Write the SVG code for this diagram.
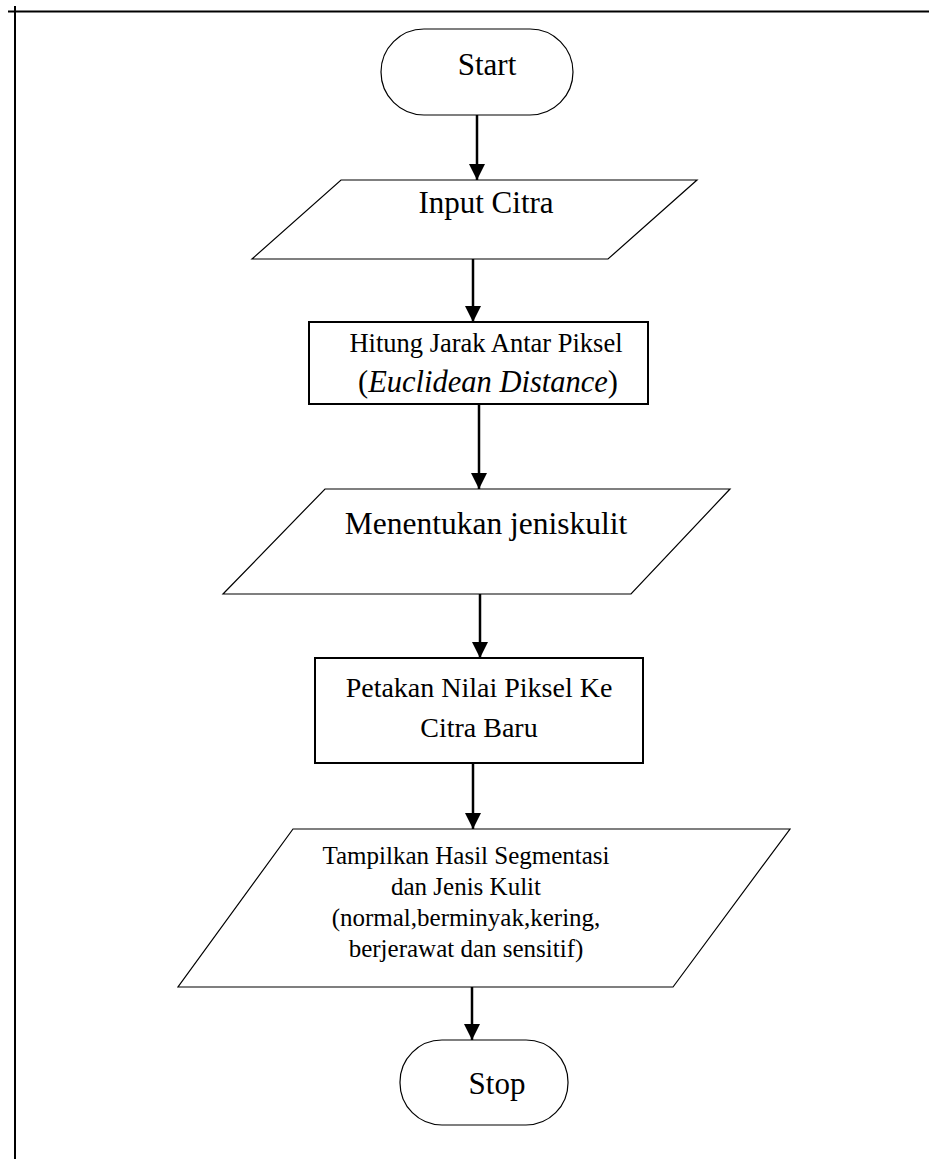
<svg xmlns="http://www.w3.org/2000/svg" width="929" height="1159" viewBox="0 0 929 1159">
<defs>
<style>
.t{font-family:"Liberation Serif","Times New Roman",serif;fill:#000;text-anchor:middle}
.thin{fill:#fff;stroke:#000;stroke-width:1.2}
.box{fill:#fff;stroke:#000;stroke-width:2}
.ln{stroke:#000;stroke-width:2.5;fill:none}
</style>
<marker id="ah" markerUnits="userSpaceOnUse" markerWidth="20" markerHeight="16" refX="18" refY="9" orient="auto" viewBox="0 0 18 18">
<path d="M0,0 L18,9 L0,18 Z" fill="#000"/>
</marker>
</defs>
<rect width="929" height="1159" fill="#fff"/>
<g id="frame">
<line x1="15" y1="6" x2="15" y2="1159" stroke="#000" stroke-width="2"/>
<line x1="8" y1="11.5" x2="929" y2="11.5" stroke="#000" stroke-width="2"/>
</g>
<g id="connectors">
<line class="ln" x1="477" y1="115" x2="477" y2="180" marker-end="url(#ah)"/>
<line class="ln" x1="473" y1="259" x2="473" y2="322" marker-end="url(#ah)"/>
<line class="ln" x1="479" y1="404" x2="479" y2="489" marker-end="url(#ah)"/>
<line class="ln" x1="480" y1="594" x2="480" y2="658" marker-end="url(#ah)"/>
<line class="ln" x1="473" y1="763" x2="473" y2="829" marker-end="url(#ah)"/>
<line class="ln" x1="472" y1="987" x2="472" y2="1040" marker-end="url(#ah)"/>
</g>
<g id="start">
<rect class="thin" x="381" y="29" width="192" height="86" rx="43" ry="43"/>
<text class="t" x="487" y="75" font-size="31">Start</text>
</g>
<g id="input">
<polygon class="thin" points="341,180 697,180 608,259 252,259"/>
<text class="t" x="486" y="213" font-size="31">Input Citra</text>
</g>
<g id="hitung">
<rect class="box" x="309" y="322" width="339" height="82"/>
<text class="t" x="486" y="352" font-size="26.5">Hitung Jarak Antar Piksel</text>
<text class="t" x="488" y="392" font-size="30.5">(<tspan font-style="italic">Euclidean Distance</tspan>)</text>
</g>
<g id="menentukan">
<polygon class="thin" points="325,489 730,489 631,594 223,594"/>
<text class="t" x="486" y="534" font-size="31.5">Menentukan jeniskulit</text>
</g>
<g id="petakan">
<rect class="box" x="315" y="658" width="328" height="105"/>
<text class="t" x="479" y="697" font-size="28">Petakan Nilai Piksel Ke</text>
<text class="t" x="479" y="737" font-size="28">Citra Baru</text>
</g>
<g id="tampilkan">
<polygon class="thin" points="293,829 790,829 673,987 178,987"/>
<text class="t" x="466" y="864" font-size="25">Tampilkan Hasil Segmentasi</text>
<text class="t" x="466" y="895" font-size="25">dan Jenis Kulit</text>
<text class="t" x="466" y="926" font-size="25">(normal,berminyak,kering,</text>
<text class="t" x="466" y="957" font-size="25">berjerawat dan sensitif)</text>
</g>
<g id="stop">
<rect class="thin" x="400" y="1040" width="168" height="85" rx="42" ry="42"/>
<text class="t" x="497" y="1094" font-size="31">Stop</text>
</g>
</svg>
